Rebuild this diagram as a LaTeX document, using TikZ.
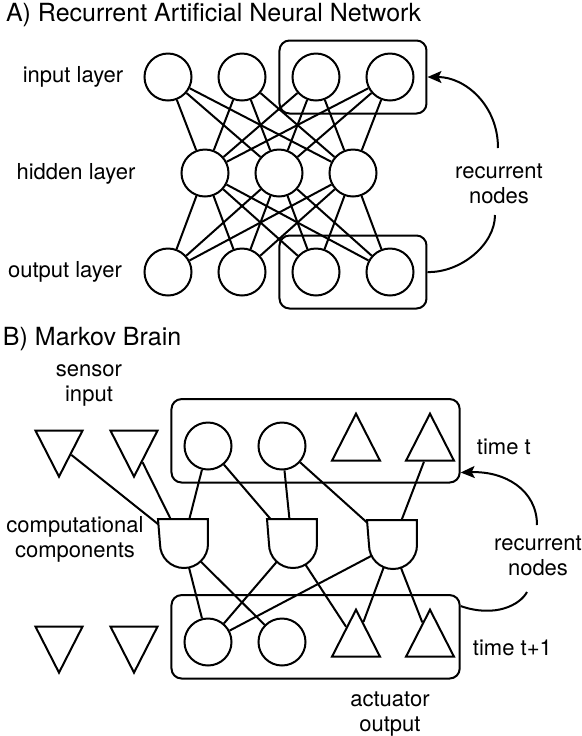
\documentclass[tikz,border=0pt]{standalone}
\usepackage{fontspec}
\setmainfont{TeX Gyre Heros}
\usetikzlibrary{shapes.geometric}
\usetikzlibrary{fit}
\usetikzlibrary{arrows.meta}

\begin{document}
\begin{tikzpicture}[x=0.5pt, y=-0.5pt, line width=1pt,
    neuron/.style={circle, draw, minimum size=23.5pt, inner sep=0pt},
    sensor/.style={isosceles triangle, isosceles triangle stretches, shape border rotate=-90, draw, minimum width=23.5pt, minimum height=23pt, inner sep=0pt},
    actuator/.style={isosceles triangle, isosceles triangle stretches, shape border rotate=90, draw, minimum width=24pt, minimum height=23.5pt, inner sep=0pt},
    gate/.style={rectangle, minimum width=24pt, minimum height=24pt, inner sep=0pt},
    group/.style={rectangle, draw, rounded corners=5pt, inner sep=6pt},
    txt/.style={font=\fontsize{11}{12.5}\selectfont, align=center, inner sep=0pt},
    heading/.style={font=\fontsize{12.5}{15}\selectfont, anchor=base west, inner sep=0pt}]

      \useasboundingbox (0,0) rectangle (582,736);

      \node[heading] (titleA) at (5,21) {A) Recurrent Artificial Neural Network};

      \node[neuron] (i1) at (168,77) {};
      \node[neuron] (i2) at (242,77) {};
      \node[neuron] (i3) at (316,77) {};
      \node[neuron] (i4) at (390,77) {};

      \node[neuron] (h1) at (205,173) {};
      \node[neuron] (h2) at (279,173) {};
      \node[neuron] (h3) at (353,173) {};

      \node[neuron] (o1) at (168,272) {};
      \node[neuron] (o2) at (242,272) {};
      \node[neuron] (o3) at (316,272) {};
      \node[neuron] (o4) at (390,272) {};

      \node[txt] (inlab) at (73,77) {input layer};
      \node[txt] (hidlab) at (76,174) {hidden layer};
      \node[txt] (outlab) at (65,272) {output layer};

      \draw (i1) -- (h1) (i1) -- (h2) (i1) -- (h3);
      \draw (i2) -- (h1) (i2) -- (h2) (i2) -- (h3);
      \draw (i3) -- (h1) (i3) -- (h2) (i3) -- (h3);
      \draw (i4) -- (h1) (i4) -- (h2) (i4) -- (h3);
      \draw (h1) -- (o1) (h1) -- (o2) (h1) -- (o3) (h1) -- (o4);
      \draw (h2) -- (o1) (h2) -- (o2) (h2) -- (o3) (h2) -- (o4);
      \draw (h3) -- (o1) (h3) -- (o2) (h3) -- (o3) (h3) -- (o4);

      \node[group, fit=(i3)(i4)] (boxin) {};
      \node[group, fit=(o3)(o4)] (boxout) {};

      \node[txt] (recA) at (499,184) {recurrent\\nodes};
      \coordinate (recAup) at (498,148);
      \coordinate (recAdown) at (495,215);
      \draw [->, >={Stealth[length=7pt, width=6pt, inset=1.5pt]}] (recAup) .. controls (498,105) and (465,77) .. (boxin.east);
      \draw (boxout.east) .. controls (460,273) and (495,245) .. (recAdown);

      \node[heading] (titleB) at (2,345) {B) Markov Brain};

      \node[txt] (senlab) at (89,385) {sensor\\input};

      \node[sensor] (s1) at (59,445) {};
      \node[sensor] (s2) at (134,445) {};
      \node[neuron] (t1) at (208,446) {};
      \node[neuron] (t2) at (282,446) {};
      \node[actuator] (t3) at (356,446) {};
      \node[actuator] (t4) at (430,446) {};

      \node[gate] (g1) at (183,544) {};
      \node[gate] (g2) at (292,544) {};
      \node[gate] (g3) at (392,545) {};

      \node[sensor] (bs1) at (59,641) {};
      \node[sensor] (bs2) at (134,641) {};
      \node[neuron] (b1) at (208,642) {};
      \node[neuron] (b2) at (282,642) {};
      \node[actuator] (b3) at (356,642) {};
      \node[actuator] (b4) at (430,642) {};

      \node[txt] (complab) at (75,539) {computational\\components};

      \draw (s1) -- (g1.center);
      \draw (s2) -- (g1.center);
      \draw (t1) -- (g1.center);
      \draw (t1) -- (g2.center);
      \draw (t2) -- (g2.center);
      \draw (t2) -- (g3.center);
      \draw (t4) -- (g3.center);
      \draw (g1.center) -- (b1);
      \draw (g1.center) -- (b2);
      \draw (g2.center) -- (b1);
      \draw (g2.center) -- (b3);
      \draw (g3.center) -- (b1);
      \draw (g3.center) -- (b3);
      \draw (g3.center) -- (b4);

      \draw[fill=white] (g1.north west) -- (g1.north east) -- (g1.east) arc[start angle=0, end angle=-180, radius=12pt] -- cycle;
      \draw[fill=white] (g2.north west) -- (g2.north east) -- (g2.east) arc[start angle=0, end angle=-180, radius=12pt] -- cycle;
      \draw[fill=white] (g3.north west) -- (g3.north east) -- (g3.east) arc[start angle=0, end angle=-180, radius=12pt] -- cycle;

      \node[group, fit=(t1)(t4)] (boxt) {};
      \node[group, fit=(b1)(b4)] (boxb) {};

      \node[txt, anchor=west] (timet) at (476,447) {time t};
      \node[txt, anchor=west] (timet1) at (472,648) {time t+1};
      \node[txt] (actlab) at (390,714) {actuator\\output};

      \node[txt] (recB) at (538,556) {recurrent\\nodes};
      \coordinate (recBup) at (537,525);
      \coordinate (recBdown) at (527,592);
      \draw [->, >={Stealth[length=7pt, width=6pt, inset=1.5pt]}] (recBup) .. controls (537,490) and (505,471) .. ([yshift=5.5pt]boxt.south east);
      \draw ([yshift=-6pt]boxb.north east) .. controls (495,618) and (520,605) .. (recBdown);

    \end{tikzpicture}
\end{document}
